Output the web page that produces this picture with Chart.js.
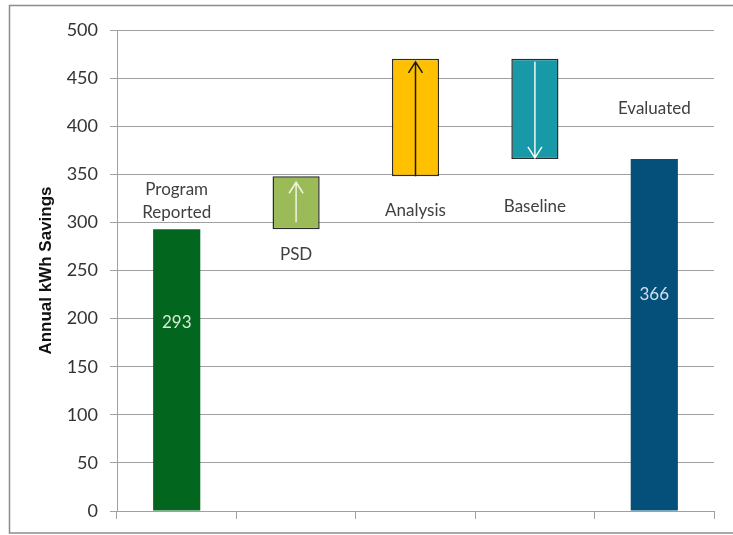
<!DOCTYPE html>
<html>
<head>
<meta charset="utf-8">
<script src="https://cdn.jsdelivr.net/npm/chart.js@4"></script>
<style>
  html, body { margin: 0; padding: 0; background: #fff; }
  #wrap { position: relative; width: 733px; height: 535px; }
</style>
</head>
<body>
<div id="wrap"><canvas id="myChart" width="733" height="535"></canvas></div>
<script>
(() => {
  'use strict'

  // Waterfall steps, annual kWh savings
  const categories = ['Program Reported', 'PSD', 'Analysis', 'Baseline', 'Evaluated']
  const stepStart = [0, 293, 348, 470, 0]
  const stepEnd = [293, 348, 470, 366, 366]
  const yTicks = [0, 50, 100, 150, 200, 250, 300, 350, 400, 450, 500]

  const barColors = ['#03661e', '#9bbb59', '#ffc000', '#1899a7', '#04507a']
  const borderWidths = [0, 1.5, 1.5, 1.5, 0]
  const gridColor = '#a0a0a0'
  const textColor = '#404040'
  const font = 'Lato, "Open Sans", sans-serif'

  // category captions: text lines and the value where the caption sits
  const captions = [
    { lines: ['Program', 'Reported'], at: 322 },
    { lines: ['PSD'], at: 267 },
    { lines: ['Analysis'], at: 312 },
    { lines: ['Baseline'], at: 317 },
    { lines: ['Evaluated'], at: 418 }
  ]
  // totals written inside the two full bars
  const totals = [
    { index: 0, value: stepEnd[0], at: 196, color: '#d8ecd8' },
    { index: 4, value: stepEnd[4], at: 225, color: '#cfe0ee' }
  ]
  // arrows on the change bars
  const arrows = [
    { index: 1, color: '#eef4e2', insetTop: 6, insetBottom: 7 },
    { index: 2, color: '#1a1a1a', insetTop: 3, insetBottom: 0 },
    { index: 3, color: '#f2f8f8', insetTop: 3, insetBottom: 1 }
  ]

  const frame = {
    id: 'frame',
    beforeDraw(chart) {
      const c = chart.ctx
      c.save()
      c.fillStyle = '#fff'
      c.fillRect(0, 0, chart.width, chart.height)
      c.strokeStyle = '#8c8c8c'
      c.lineWidth = 1.5
      c.strokeRect(9.5, 5.5, chart.width + 10, 527.5)
      c.restore()
    }
  }

  const decorations = {
    id: 'decorations',
    afterDatasetsDraw(chart) {
      const c = chart.ctx
      const y = chart.scales.y
      const meta = chart.getDatasetMeta(0)
      c.save()

      arrows.forEach(a => {
        const bar = meta.data[a.index]
        const up = stepEnd[a.index] > stepStart[a.index]
        const top = Math.min(bar.y, bar.base) + a.insetTop
        const bottom = Math.max(bar.y, bar.base) - a.insetBottom
        const x = bar.x
        const tip = up ? top : bottom
        const tail = up ? bottom : top
        const dir = up ? 1 : -1
        c.strokeStyle = a.color
        c.lineWidth = 1.5
        c.beginPath()
        c.moveTo(x, tail)
        c.lineTo(x, tip)
        c.moveTo(x - 7, tip + dir * 11)
        c.lineTo(x, tip)
        c.lineTo(x + 7, tip + dir * 11)
        c.stroke()
      })

      c.textAlign = 'center'
      c.textBaseline = 'middle'
      c.font = '17px ' + font
      c.fillStyle = textColor
      captions.forEach((cap, i) => {
        const x = meta.data[i].x
        const yc = y.getPixelForValue(cap.at)
        const lh = 23
        const y0 = yc - (cap.lines.length - 1) * lh / 2
        cap.lines.forEach((line, k) => c.fillText(line, x, y0 + k * lh))
      })

      totals.forEach(t => {
        c.fillStyle = t.color
        c.fillText(String(t.value), meta.data[t.index].x, y.getPixelForValue(t.at))
      })
      c.restore()
    }
  }

  const ctx = document.getElementById('myChart')
  new Chart(ctx, {
    type: 'bar',
    data: {
      labels: categories,
      datasets: [{
        data: stepStart.map((s, i) => [s, stepEnd[i]]),
        backgroundColor: barColors,
        borderColor: '#2b2b2b',
        borderWidth: borderWidths,
        borderSkipped: false,
        barPercentage: 0.395,
        categoryPercentage: 1
      }]
    },
    options: {
      responsive: false,
      animation: false,
      devicePixelRatio: 1,
      layout: { padding: { left: 0, top: 30, right: 19, bottom: 16 } },
      plugins: {
        legend: { display: false },
        tooltip: { enabled: false }
      },
      scales: {
        x: {
          type: 'category',
          offset: true,
          grid: {
            offset: true,
            drawOnChartArea: false,
            drawTicks: true,
            tickLength: 8,
            color: gridColor
          },
          border: { color: gridColor },
          ticks: { display: false },
          afterFit(scale) { scale.height = 8 }
        },
        y: {
          min: 0,
          max: 500,
          afterBuildTicks(scale) { scale.ticks = yTicks.map(v => ({ value: v })) },
          grid: { color: gridColor, tickLength: 7 },
          border: { color: gridColor },
          ticks: {
            padding: 12,
            color: '#333',
            font: { family: font, size: 18 }
          },
          title: {
            display: true,
            text: 'Annual kWh Savings',
            color: '#111',
            padding: { top: 36, bottom: 0 },
            font: { family: '"Liberation Sans", Arial, sans-serif', size: 17, weight: 'bold' }
          },
          afterFit(scale) { scale.width = 117 }
        }
      }
    },
    plugins: [frame, decorations]
  })
})()
</script>
</body>
</html>
